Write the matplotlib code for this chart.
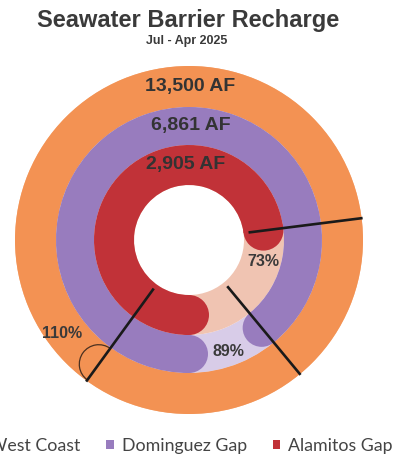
import matplotlib
matplotlib.use("Agg")
import matplotlib.pyplot as plt
import numpy as np
from matplotlib.patches import Wedge, Circle, Arc, Patch

# ---- data ----
names = ["West Coast", "Dominguez Gap", "Alamitos Gap"]
acre_feet = [13500, 6861, 2905]
percent = [110, 89, 73]
title = "Seawater Barrier Recharge"
subtitle = "Jul - Apr 2025"

# ---- style ----
main_colors = ["#F39253", "#987CBE", "#C13238"]
light_colors = ["#F7B98E", "#D8CCE8", "#F0C4B2"]
radii = [(133, 174), (95, 133), (55, 95)]  # (inner, outer) in pixels
text_color = "#333333"

W, H = 401, 461
fig = plt.figure(figsize=(W / 100, H / 100), dpi=100)
ax = fig.add_axes([0, 0, 1, 1])
ax.set_xlim(0, W)
ax.set_ylim(0, H)
ax.set_aspect("equal")
ax.axis("off")

cx, cy = 189, H - 240
start = 270.0

end_angles = []
for name, val, pct, c, lc, (r_in, r_out) in zip(names, acre_feet, percent,
                                                main_colors, light_colors, radii):
    w = r_out - r_in
    r_mid = (r_in + r_out) / 2
    sweep = pct / 100 * 360
    end = start - sweep
    end_angles.append(end)
    # background ring
    ax.add_patch(Wedge((cx, cy), r_out, 0, 360, width=w, facecolor=lc,
                       edgecolor="none", zorder=1))
    if sweep >= 360:
        ax.add_patch(Wedge((cx, cy), r_out, 0, 360, width=w, facecolor=c,
                           edgecolor="none", zorder=2))
        ea = np.deg2rad(end)
        ex, ey = cx + r_mid * np.cos(ea), cy + r_mid * np.sin(ea)
        ax.add_patch(Arc((ex, ey), w * 0.95, w * 0.95, theta1=end - 180,
                         theta2=end, color="#4a3020", lw=0.9, zorder=4))
    else:
        ax.add_patch(Wedge((cx, cy), r_out, end, start, width=w, facecolor=c,
                           edgecolor="none", zorder=2))
        for a in (start, end):
            ar = np.deg2rad(a)
            ax.add_patch(Circle((cx + r_mid * np.cos(ar), cy + r_mid * np.sin(ar)),
                                w / 2, facecolor=c, edgecolor="none", zorder=3))

# target/end lines
for end in end_angles:
    a = np.deg2rad(end)
    ax.plot([cx + 60 * np.cos(a), cx + 175 * np.cos(a)],
            [cy + 60 * np.sin(a), cy + 175 * np.sin(a)],
            color="#1a1a1a", lw=1.9, solid_capstyle="butt", zorder=5)

# value labels at top of rings
for val, (r_in, r_out), dx in zip(acre_feet, radii, [1, 2, -3]):
    ax.text(cx + dx, cy + (r_in + r_out) / 2 + 0.5, f"{val:,} AF",
            ha="center", va="center", fontsize=14, fontweight="bold",
            family="Liberation Sans", color=text_color, zorder=6)

# percent labels
pct_pos = [(62, 334), (228, 351), (263, 261)]
for pct, (px, py) in zip(percent, pct_pos):
    ax.text(px, H - py, f"{pct}%", ha="center", va="center", fontsize=11.5,
            fontweight="bold", family="Liberation Sans", color="#3a3a3a", zorder=6)

# titles
ax.text(188, H - 20, title, ha="center", va="center", fontsize=17,
        fontweight="bold", family="Liberation Sans", color="#3a3a3a")
ax.text(187, H - 41, subtitle, ha="center", va="center", fontsize=9,
        fontweight="bold", family="Liberation Sans", color="#3a3a3a")

# legend
handles = [Patch(facecolor=c, edgecolor="none") for c in main_colors]
leg = fig.legend(handles, names, loc="center", bbox_to_anchor=(183 / W, 1 - 446 / H),
                 ncol=3, frameon=False, handlelength=0.42, handleheight=0.42,
                 handletextpad=0.45, columnspacing=1.45, borderpad=0,
                 prop={"family": "Lato", "size": 12.8})
for t in leg.get_texts():
    t.set_color("#444444")

fig.savefig("out.png", dpi=100)
